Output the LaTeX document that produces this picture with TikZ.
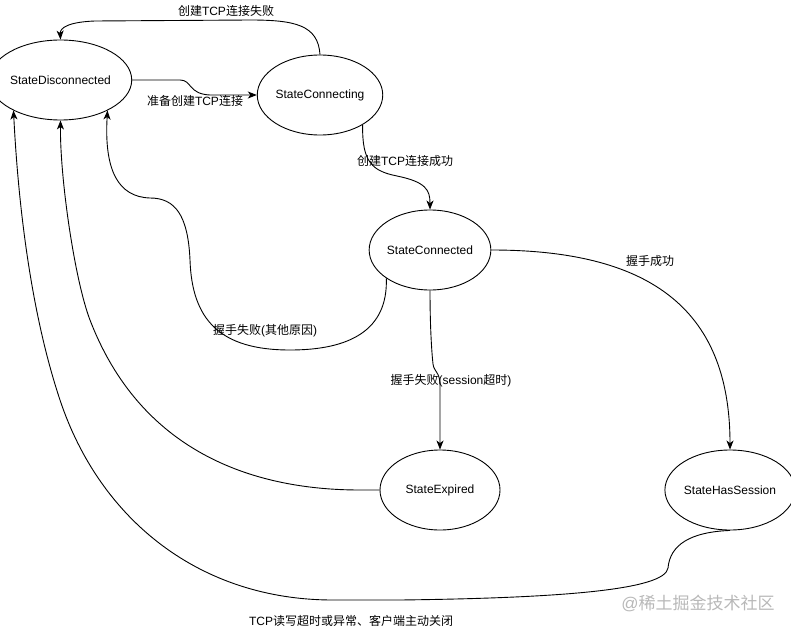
\documentclass[tikz,border=0pt]{standalone}
\usepackage{fontspec}
\setmainfont{Liberation Sans}
\newfontfamily\cjk{Noto Sans CJK SC}
\usetikzlibrary{shapes.geometric,arrows.meta}
\newcommand\zhs[1]{{\cjk #1}}
\begin{document}
\begin{tikzpicture}[x=1pt,y=-1pt,
  state/.style={draw, ellipse, minimum width=120pt, minimum height=80pt, inner sep=0pt, font=\fontsize{12}{14}\selectfont, line width=0.9pt},
  arr/.style={draw, line width=0.9pt, -{Stealth[length=9pt,width=7pt,inset=2.5pt]}},
  lbl/.style={inner sep=0pt, font=\fontsize{12}{14}\selectfont},
  wm/.style={inner sep=0pt, font=\fontsize{17}{19}\selectfont, text=black!28},
]
\path[use as bounding box] (0,0) rectangle (791,631);

\node[state] (dis) at (60.5,80) {StateDisconnected};
\node[state] (conn) at (320,95) {StateConnecting};
\node[state] (con2) at (430,250) {StateConnected};
\node[state] (exp) at (440,490) {StateExpired};
\node[state] (hs) at (730,490) {StateHasSession};

% Connecting -> Disconnected (fail)
\draw[arr] (conn.north) .. controls (318,25) and (295,20) .. (250,20) -- (95,21) .. controls (68,22) and (60,28) .. (dis.north);
\node[lbl] (l1) at (226,11) {\zhs{创建}TCP\zhs{连接失败}};

% Disconnected -> Connecting
\draw[arr] (dis.east) -- (180,80) .. controls (192,80) and (188,94) .. (210,95) -- (conn.west);
\node[lbl] (l2) at (195,101) {\zhs{准备创建}TCP\zhs{连接}};

% Connecting -> Connected
\draw[arr] (conn.-35) .. controls (362,162) and (372,171) .. (397,176) .. controls (426,182) and (430,190) .. (con2.north);
\node[lbl] (l3) at (405,161) {\zhs{创建}TCP\zhs{连接成功}};

% Connected -> Disconnected (other)
\draw[arr] (con2.-147) .. controls (388,330) and (350,350) .. (290,350) .. controls (220,350) and (192,320) .. (190,260) .. controls (188,215) and (175,198) .. (150,198) .. controls (118,197) and (104,170) .. (dis.-33);
\node[lbl] (l4) at (265,331) {\zhs{握手失败}(\zhs{其他原因})};

% Connected -> Expired
\draw[arr] (con2.south) .. controls (430,330) and (432,355) .. (433,364) .. controls (434,372) and (440,372) .. (440,385) -- (exp.north);
\node[lbl] (l5) at (451,381) {\zhs{握手失败}(session\zhs{超时})};

% Expired -> Disconnected
\draw[arr] (exp.west) -- (360,490) .. controls (250,490) and (140,450) .. (90,320) .. controls (75,281) and (60,180) .. (dis.south);

% Connected -> HasSession
\draw[arr] (con2.east) .. controls (645,250) and (730,305) .. (hs.north);
\node[lbl] (l6) at (650,261) {\zhs{握手成功}};

% HasSession -> Disconnected
\draw[arr] (hs.south) .. controls (690,532) and (670,545) .. (668,568) .. controls (665,590) and (560,598) .. (400,600) -- (333,600) .. controls (200,600) and (100,520) .. (60,400) .. controls (30,310) and (18,200) .. (dis.-147);
\node[lbl] (l7) at (351,621) {TCP\zhs{读写超时或异常、客户端主动关闭}};

% watermark
\node[wm] (wmk) at (698,603) {@\zhs{稀土掘金技术社区}};
\end{tikzpicture}
\end{document}
